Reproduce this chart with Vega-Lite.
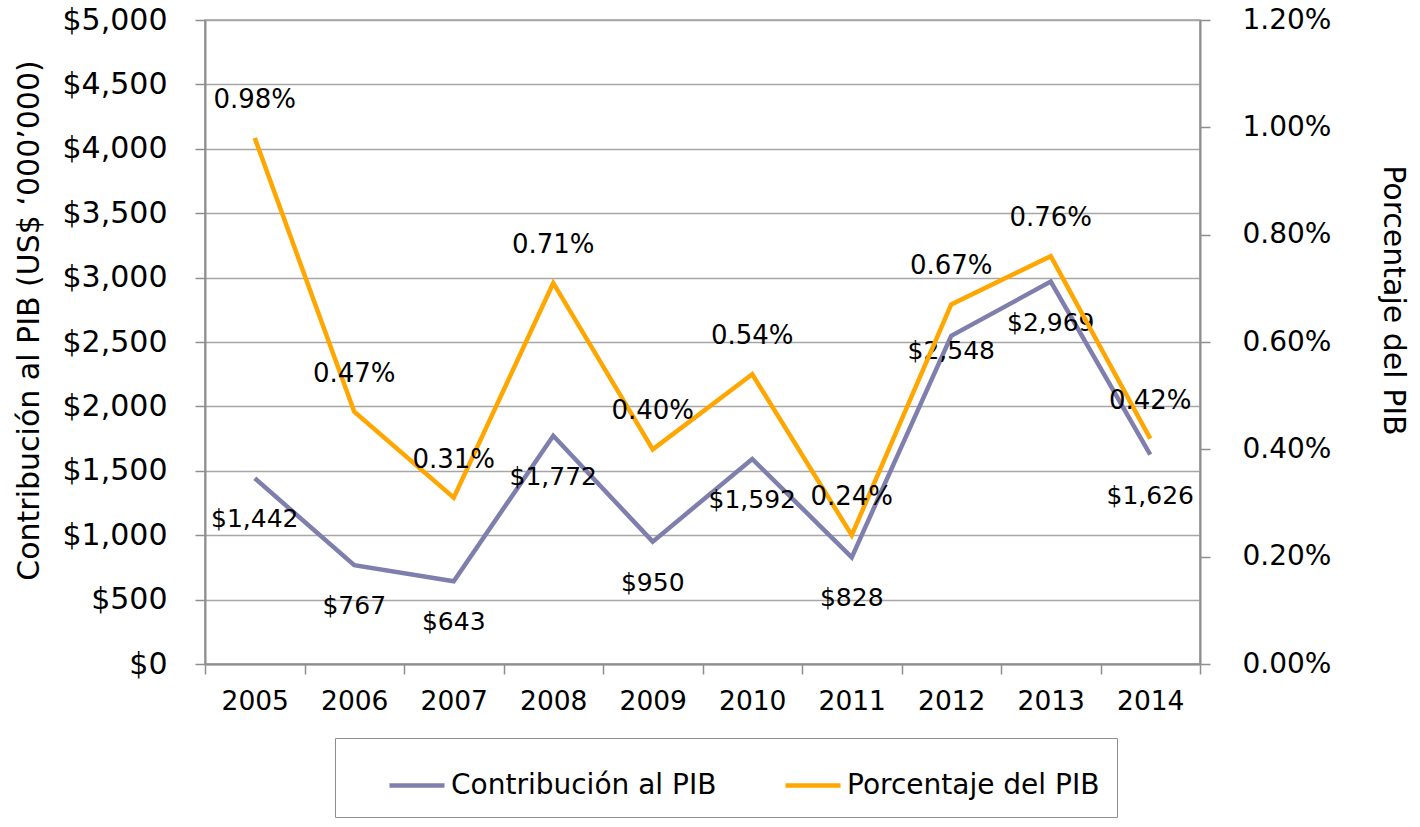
{
  "$schema": "https://vega.github.io/schema/vega-lite/v6.json",
  "width": 995,
  "height": 644,
  "autosize": {"type": "none"},
  "padding": {"left": 205, "top": 20, "right": 220, "bottom": 163},
  "background": "white",
  "config": {
    "font": "DejaVu Sans",
    "view": {"stroke": "#9a9a9a", "strokeWidth": 1.5},
    "axis": {
      "domainColor": "#8e8e8e",
      "domainWidth": 2,
      "tickColor": "#8e8e8e",
      "tickWidth": 1.5,
      "tickSize": 10,
      "labelColor": "#000000",
      "titleColor": "#000000",
      "labelFont": "DejaVu Sans",
      "titleFont": "DejaVu Sans",
      "titleFontWeight": "normal"
    },
    "legend": {"labelFont": "DejaVu Sans"}
  },
  "data": {
    "values": [
      {"year": "2005", "contrib": 1442, "pct": 0.0098},
      {"year": "2006", "contrib": 767, "pct": 0.0047},
      {"year": "2007", "contrib": 643, "pct": 0.0031},
      {"year": "2008", "contrib": 1772, "pct": 0.0071},
      {"year": "2009", "contrib": 950, "pct": 0.0040},
      {"year": "2010", "contrib": 1592, "pct": 0.0054},
      {"year": "2011", "contrib": 828, "pct": 0.0024},
      {"year": "2012", "contrib": 2548, "pct": 0.0067},
      {"year": "2013", "contrib": 2969, "pct": 0.0076},
      {"year": "2014", "contrib": 1626, "pct": 0.0042}
    ]
  },
  "encoding": {
    "x": {
      "field": "year",
      "type": "ordinal",
      "scale": {"type": "band", "paddingInner": 0, "paddingOuter": 0},
      "axis": {
        "title": null,
        "labelAngle": 0,
        "labelFontSize": 26.5,
        "labelPadding": 14,
        "tickBand": "extent",
        "grid": false
      }
    }
  },
  "layer": [
    {
      "encoding": {
        "y": {
          "field": "contrib",
          "type": "quantitative",
          "scale": {"domain": [0, 5000], "nice": false},
          "axis": {
            "orient": "left",
            "values": [0, 500, 1000, 1500, 2000, 2500, 3000, 3500, 4000, 4500, 5000],
            "format": "$,.0f",
            "grid": true,
            "gridColor": "#a6a6a6",
            "gridWidth": 1.5,
            "labelFontSize": 30,
            "labelPadding": 28,
            "title": "Contribución al PIB (US$ ‘000’000)",
            "titleFontSize": 30,
            "titlePadding": 18,
            "titleY": 300
          }
        }
      },
      "layer": [
        {
          "mark": {"type": "line", "strokeWidth": 4.5},
          "encoding": {
            "color": {
              "datum": "Contribución al PIB",
              "type": "nominal",
              "scale": {
                "domain": ["Contribución al PIB", "Porcentaje del PIB"],
                "range": ["#7f7fae", "#ffa600"]
              },
              "legend": {
                "title": null,
                "orient": "none",
                "legendX": 130,
                "legendY": 718,
                "direction": "horizontal",
                "symbolType": "stroke",
                "symbolSize": 3025,
                "symbolStrokeWidth": 4.5,
                "symbolOffset": 34.5,
                "labelFontSize": 28,
                "labelOffset": 4,
                "labelLimit": 600,
                "gridAlign": "all",
                "columnPadding": 32,
                "padding": 17.5,
                "strokeColor": "#8e8e8e",
                "labelColor": "#000000"
              }
            }
          }
        },
        {
          "transform": [{"filter": "datum.year !== '2012'"}],
          "mark": {"type": "text", "dy": 41, "fontSize": 25, "color": "#000000"},
          "encoding": {"text": {"field": "contrib", "type": "quantitative", "format": "$,.0f"}}
        },
        {
          "transform": [{"filter": "datum.year === '2012'"}],
          "mark": {"type": "text", "dy": 15, "fontSize": 25, "color": "#000000"},
          "encoding": {"text": {"field": "contrib", "type": "quantitative", "format": "$,.0f"}}
        }
      ]
    },
    {
      "encoding": {
        "y": {
          "field": "pct",
          "type": "quantitative",
          "scale": {"domain": [0, 0.012], "nice": false},
          "axis": {
            "orient": "right",
            "values": [0, 0.002, 0.004, 0.006, 0.008, 0.01, 0.012],
            "format": ".2%",
            "grid": false,
            "labelFontSize": 28,
            "labelPadding": 32,
            "title": "Porcentaje del PIB",
            "titleFontSize": 30,
            "titlePadding": 47,
            "titleY": 280
          }
        }
      },
      "layer": [
        {
          "mark": {"type": "line", "strokeWidth": 4.5},
          "encoding": {"color": {"datum": "Porcentaje del PIB", "type": "nominal"}}
        },
        {
          "mark": {"type": "text", "dy": -38, "fontSize": 26, "color": "#000000"},
          "encoding": {"text": {"field": "pct", "type": "quantitative", "format": ".2%"}}
        }
      ]
    }
  ],
  "resolve": {"scale": {"y": "independent"}}
}
